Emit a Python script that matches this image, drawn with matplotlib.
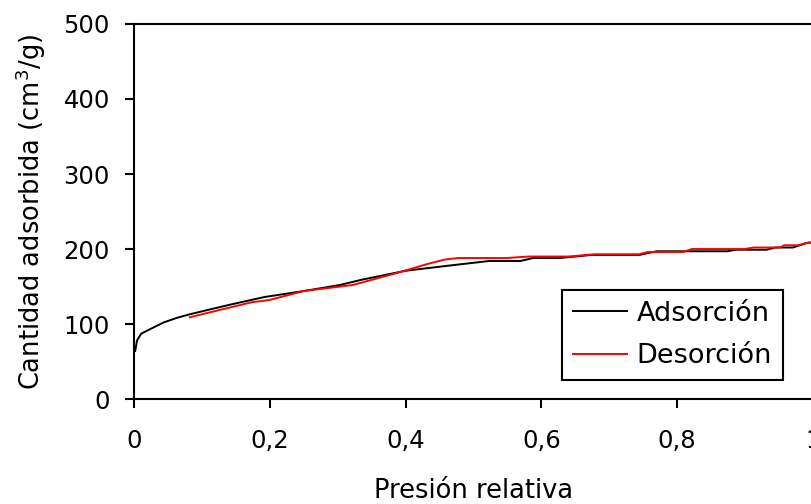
import matplotlib.pyplot as plt

plt.rcParams['font.family'] = ['DejaVu Sans']

# isoterma de adsorción / desorción
p_ads = [0.0013, 0.004, 0.010, 0.023, 0.043, 0.062, 0.082, 0.114, 0.147, 0.192,
         0.25, 0.303, 0.335, 0.40, 0.465, 0.523, 0.569, 0.588, 0.627, 0.673,
         0.744, 0.770, 0.874, 0.887, 0.932, 0.945, 0.971, 0.991, 1.0]
v_ads = [64, 78, 87, 93, 102, 108, 113, 120, 127, 136,
         144, 152, 159, 171, 178, 184, 184, 188, 188, 192,
         192, 197, 197, 199, 199, 202, 202, 208, 209]

p_des = [0.082, 0.127, 0.173, 0.199, 0.25, 0.322, 0.387, 0.432, 0.458, 0.478,
         0.549, 0.582, 0.64, 0.679, 0.744, 0.757, 0.809, 0.822, 0.9, 0.913,
         0.952, 0.958, 0.978, 0.991, 1.0]
v_des = [109, 119, 129, 132, 144, 152, 168, 180, 186, 188,
         188, 190, 190, 193, 193, 196, 196, 200, 200, 202,
         202, 205, 205, 208, 209]

x_ticks = [0, 0.2, 0.4, 0.6, 0.8, 1.0]
x_labels = ['0', '0,2', '0,4', '0,6', '0,8', '1']
y_ticks = [0, 100, 200, 300, 400, 500]

fig = plt.figure(figsize=(8.11, 5.04), dpi=100)
ax = fig.add_axes([0.1656, 0.2083, 0.8365, 0.7441])

ax.plot(p_ads, v_ads, color='black', lw=1.4, label='Adsorción')
ax.plot(p_des, v_des, color='#ff0000', lw=1.4, label='Desorción')

ax.set_xlim(0, 1)
ax.set_ylim(0, 500)
ax.set_xticks(x_ticks)
ax.set_xticklabels(x_labels)
ax.set_yticks(y_ticks)

for s in ax.spines.values():
    s.set_linewidth(1.5)
ax.tick_params(direction='out', length=6.5, width=1.5, labelsize=17.5)
ax.tick_params(axis='x', pad=15)
ax.tick_params(axis='y', pad=11)

ax.set_xlabel('Presión relativa', fontsize=18.5, labelpad=18)
ax.set_ylabel('Cantidad adsorbida (cm$^3$/g)', fontsize=18.5, labelpad=11)

leg = ax.legend(loc='lower right', bbox_to_anchor=(0.956, 0.0507), fontsize=19.5,
                fancybox=False, framealpha=1, edgecolor='black',
                handlelength=2.0, handletextpad=0.35, labelspacing=0.6,
                borderpad=0.4, borderaxespad=0)
leg.get_frame().set_linewidth(1.5)

fig.savefig('out.png', dpi=100)
